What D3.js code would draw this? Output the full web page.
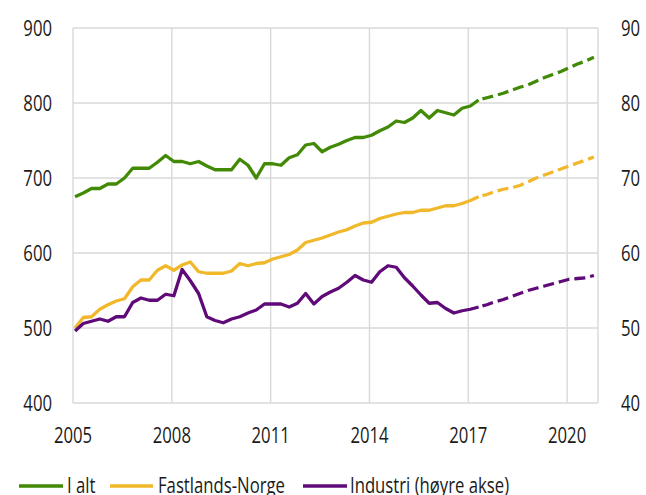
<!DOCTYPE html>
<html><head><meta charset="utf-8">
<script src="https://cdn.jsdelivr.net/npm/d3@7"></script>
<style>html,body{margin:0;padding:0;background:#fff;}svg{display:block;}</style>
</head><body>
<svg id="chart" width="646" height="495"></svg>
<script>
// ---- data ----
const startYear = 2005;
const lastHistIndex = 49; // 2017 Q2
const iAlt = [675,680,686,686,692,692,700,713,713,713,721,730,722,722,719,722,716,711,711,711,
  725,717,700,719,719,717,727,731,744,746,735,741,745,750,754,754,757,763,768,776,
  774,780,790,780,790,787,784,793,796,804,
  807,810,813,817,821,824,829,834,838,842,847,852,856,861];
const fastland = [500,514,515,525,531,536,539,555,564,564,577,583,577,584,588,575,573,573,573,576,
  586,583,586,587,592,595,598,604,614,617,620,624,628,631,636,640,641,646,649,652,
  654,654,657,657,660,663,663,666,670,675,
  678,682,685,687,690,695,700,704,708,712,716,720,724,728];
const industri = [49.6,50.6,50.9,51.2,50.9,51.5,51.5,53.4,54.0,53.7,53.7,54.5,54.3,57.8,56.3,54.6,51.5,51.0,50.7,51.2,
  51.5,52.0,52.4,53.2,53.2,53.2,52.8,53.3,54.6,53.2,54.2,54.8,55.3,56.1,57.0,56.4,56.1,57.5,58.3,58.1,
  56.7,55.6,54.4,53.3,53.4,52.6,52.0,52.3,52.5,52.8,
  53.1,53.5,53.8,54.2,54.6,55.0,55.3,55.6,55.9,56.2,56.5,56.6,56.7,57.0];
const xTickYears = [2005,2008,2011,2014,2017,2020];
const leftTicks = [400,500,600,700,800,900];
const rightTicks = [40,50,60,70,80,90];
const seriesNames = ["I alt","Fastlands-Norge","Industri (høyre akse)"];
const colors = ["#428a05","#f0b82a","#5f0a78"];

// quarter time positions (category positions)
const quarterTime = iAlt.map((_, i) => startYear + (i + 0.25) / 4);

// ---- layout ----
const svg = d3.select("#chart");
const L = 73, R = 598, T = 28, B = 403;
const x = d3.scaleLinear().domain([2005, 2020.9375]).range([L, R]);
const yL = d3.scaleLinear().domain([400, 900]).range([B, T]);
const yR = d3.scaleLinear().domain([40, 90]).range([B, T]);
const grid = "#d9d9d9";
const FS = 22, SX = 0.76;
const font = "'Open Sans', sans-serif";

// gridlines
const g = svg.append("g");
g.selectAll(".hg").data(leftTicks).enter().append("line")
  .attr("x1", L).attr("x2", R).attr("y1", d => yL(d)).attr("y2", d => yL(d))
  .attr("stroke", grid).attr("stroke-width", 1.4);
g.selectAll(".vg").data(xTickYears.concat([2020.9375])).enter().append("line")
  .attr("y1", T).attr("y2", B).attr("x1", d => x(d)).attr("x2", d => x(d))
  .attr("stroke", grid).attr("stroke-width", 1.4);

function label(parent, tx, ty, text, anchor) {
  parent.append("text")
    .attr("transform", `translate(${tx},${ty}) scale(${SX},1)`)
    .attr("text-anchor", anchor)
    .attr("font-family", font).attr("font-size", FS).attr("fill", "#1a1a1a")
    .text(text);
}
// axes labels
const ax = svg.append("g");
leftTicks.forEach(v => label(ax, 52, yL(v) + 8, v, "end"));
rightTicks.forEach(v => label(ax, 621, yR(v) + 8, v, "start"));
xTickYears.forEach(v => label(ax, x(v), 443, v, "middle"));

// lines
const series = [
  {vals: iAlt, y: yL, c: colors[0]},
  {vals: fastland, y: yL, c: colors[1]},
  {vals: industri, y: yR, c: colors[2]}
];
series.forEach(s => {
  const pts = s.vals.map((v, i) => [x(quarterTime[i]), s.y(v)]);
  const line = d3.line();
  svg.append("path").attr("d", line(pts.slice(0, lastHistIndex + 1)))
    .attr("fill", "none").attr("stroke", s.c).attr("stroke-width", 3.3)
    .attr("stroke-linejoin", "round");
  svg.append("path").attr("d", line(pts.slice(lastHistIndex)))
    .attr("fill", "none").attr("stroke", s.c).attr("stroke-width", 3.3)
    .attr("stroke-dasharray", "11,5").attr("stroke-dashoffset", -4)
    .attr("stroke-linejoin", "round");
});

// legend
const leg = svg.append("g");
const legX = [[19, 63, 67], [110, 153, 158], [303, 347, 350]];
seriesNames.forEach((n, i) => {
  leg.append("line").attr("x1", legX[i][0]).attr("x2", legX[i][1])
    .attr("y1", 486).attr("y2", 486).attr("stroke", colors[i]).attr("stroke-width", 3.3);
  label(leg, legX[i][2], 493, n, "start");
});
</script>
</body></html>
